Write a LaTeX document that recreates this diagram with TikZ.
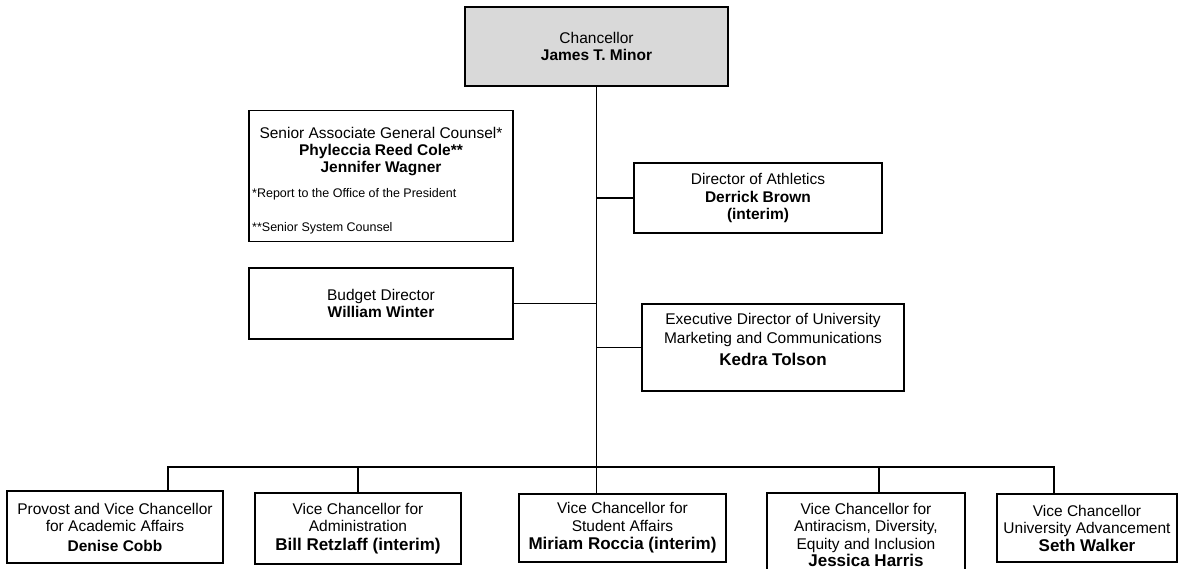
\documentclass[tikz,border=0pt]{standalone}
\usepackage{fontspec}
\setmainfont{Liberation Sans}
\definecolor{chanfill}{HTML}{D9D9D9}
\newcommand{\nm}[1]{\textbf{#1}}
\newcommand{\bignm}[1]{{\fontsize{17}{19}\selectfont\textbf{#1}}}

\begin{document}
\begin{tikzpicture}[x=1pt,y=-1pt,
  office/.style={draw,line width=1.3pt,inner sep=0pt,align=center,
    font=\fontsize{15.5}{17.5}\selectfont},
  remark/.style={inner sep=0pt,anchor=base west,font=\fontsize{12.5}{14}\selectfont},
  link/.style={line width=1.3pt}]
  \useasboundingbox (0,0) rectangle (1186,568);
  \clip (0,0) rectangle (1186,568);

  \node[office,fill=chanfill,minimum width=263,minimum height=79] (chan) at (596.5,46.5)
    {Chancellor\\ \nm{James T. Minor}};

  \node[office,minimum width=264,minimum height=131] (counsel) at (381,176) {};
  \node[inner sep=0pt,align=center,font=\fontsize{15.5}{17}\selectfont] (counselhead) at (381,152)
    {Senior Associate General Counsel*\\ \nm{Phyleccia Reed Cole**}\\ \nm{Jennifer Wagner}};
  \node[remark] (note1) at (252,197) {*Report to the Office of the President};
  \node[remark] (note2) at (252,231) {**Senior System Counsel};

  \node[office,minimum width=248,minimum height=70] (ath) at (758,198)
    {Director of Athletics\\ \nm{Derrick Brown}\\ \nm{(interim)}};
  \node[office,minimum width=264,minimum height=71] (budget) at (381,303.5)
    {Budget Director\\ \nm{William Winter}};
  \node[office,minimum width=262,minimum height=87,text depth=16pt] (exec) at (773,347.5)
    {Executive Director of University\\[1.5pt] Marketing and Communications\\[4pt] \bignm{Kedra Tolson}};

  \node[office,minimum width=216,minimum height=72] (prov) at (115,527)
    {Provost and Vice Chancellor\\ for Academic Affairs\\[2pt] \nm{Denise Cobb}};
  \node[office,minimum width=206,minimum height=71] (admin) at (358,528.5)
    {Vice Chancellor for\\ Administration\\[1pt] \bignm{Bill Retzlaff (interim)}};
  \node[office,minimum width=207,minimum height=68] (stud) at (622.5,528)
    {Vice Chancellor for\\ Student Affairs\\[1pt] \bignm{Miriam Roccia (interim)}};
  \node[office,minimum width=198,minimum height=84] (anti) at (866,535)
    {Vice Chancellor for\\ Antiracism, Diversity,\\ Equity and Inclusion\\ \bignm{Jessica Harris}};
  \node[office,minimum width=180,minimum height=68] (seth) at (1087,528)
    {Vice Chancellor\\ University Advancement\\ \bignm{Seth Walker}};

  \coordinate (busL) at (168,467);
  \coordinate (busR) at (1054,467);
  \coordinate (antitap) at (879,467);

  \draw[link] (chan.south) -- (chan.south |- stud.north);
  \draw[link] (ath.west) -- (ath.west -| chan.south);
  \draw[link] (budget.east) -- (budget.east -| chan.south);
  \draw[link] (exec.west) -- (exec.west -| chan.south);

  \draw[link] (busL |- prov.north) -- (busL) -- (busR) -- (busR |- seth.north);
  \draw[link] (admin.north |- busL) -- (admin.north);
  \draw[link] (antitap) -- (antitap |- anti.north);
\end{tikzpicture}
\end{document}
